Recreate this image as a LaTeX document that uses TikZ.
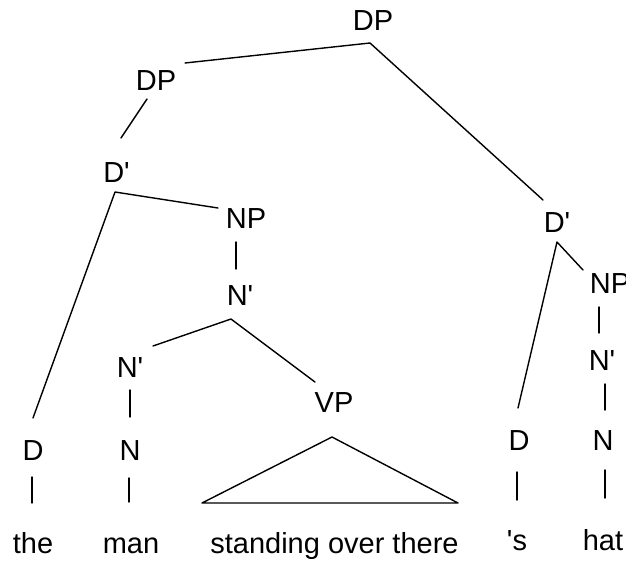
\documentclass[tikz,border=0pt]{standalone}
\usepackage{fontspec}
\newfontfamily\treefont{Liberation Sans}
\usetikzlibrary{calc}
\begin{document}
\begin{tikzpicture}[x=1pt,y=-1pt,
  lbl/.style={anchor=base,inner sep=0pt,font=\treefont\fontsize{29}{34}\selectfont},
  edge/.style={line width=1.4pt,line cap=round,line join=round}]
\useasboundingbox (0,0) rectangle (626,560);
\fill[white] (0,0) rectangle (626,560);

% category labels
\node[lbl] (dp0)   at (373,30)  {DP};
\node[lbl] (dp1)   at (156,90)  {DP};
\node[lbl] (dbar1) at (116.5,182) {D\textquotesingle};
\node[lbl] (np1)   at (246,228) {NP};
\node[lbl] (nbar1) at (240,305) {N\textquotesingle};
\node[lbl] (nbar2) at (130,377) {N\textquotesingle};
\node[lbl] (n1)    at (130,460) {N};
\node[lbl] (d1)    at (33,460)  {D};
\node[lbl] (vp)    at (334,412) {VP};
\node[lbl] (dbar2) at (557,232) {D\textquotesingle};
\node[lbl] (np2)   at (610,293) {NP};
\node[lbl] (nbar3) at (602,370) {N\textquotesingle};
\node[lbl] (n2)    at (603,450) {N};
\node[lbl] (d2)    at (519,450) {D};

% words
\node[lbl] (the)    at (33,553)    {the};
\node[lbl] (man)    at (131,553)   {man};
\node[lbl] (phrase) at (334.5,553) {standing over there};
\node[lbl] (poss)   at (517,550)   {\textquotesingle s};
\node[lbl] (hat)    at (603,550)   {hat};

% branches
\draw[edge] ($(dp1.base)+(29,-27)$) -- ($(dp0.base)+(-3,13)$) -- ($(dbar2.base)+(-14,-32)$);
\draw[edge] ($(dp1.base)+(-9,9)$) -- ($(dbar1.base)+(4.5,-44)$);
\draw[edge] ($(np1.base)+(-28,-20)$) -- ($(dbar1.base)+(-1.5,10)$) -- ($(d1.base)+(0,-42)$);
\draw[edge] ($(np1.base)+(-10,14)$) -- ($(nbar1.base)+(-4,-36)$);
\draw[edge] ($(nbar2.base)+(23,-31)$) -- ($(nbar1.base)+(-9,14)$) -- ($(vp.base)+(-19,-30)$);
\draw[edge] ($(nbar2.base)+(0,13)$) -- ($(n1.base)+(0,-43)$);
\draw[edge] ($(n1.base)+(-1,18)$) -- ($(man.base)+(-2,-51)$);
\draw[edge] ($(d1.base)+(-1,17)$) -- ($(the.base)+(-1,-50)$);
\draw[edge] ($(vp.base)+(-2,25)$) -- ($(phrase.base)+(-132.5,-50)$)
  -- ($(phrase.base)+(123.5,-50)$) -- cycle;
\draw[edge] ($(np2.base)+(-27,-23)$) -- ($(dbar2.base)+(0,10)$) -- ($(d2.base)+(-1,-42)$);
\draw[edge] ($(np2.base)+(-11,14)$) -- ($(nbar3.base)+(-3,-37)$);
\draw[edge] ($(nbar3.base)+(3,14)$) -- ($(n2.base)+(2,-40)$);
\draw[edge] ($(n2.base)+(2,20)$) -- ($(hat.base)+(2,-52)$);
\draw[edge] ($(d2.base)+(-2,22)$) -- ($(poss.base)+(0,-50)$);
\end{tikzpicture}
\end{document}
